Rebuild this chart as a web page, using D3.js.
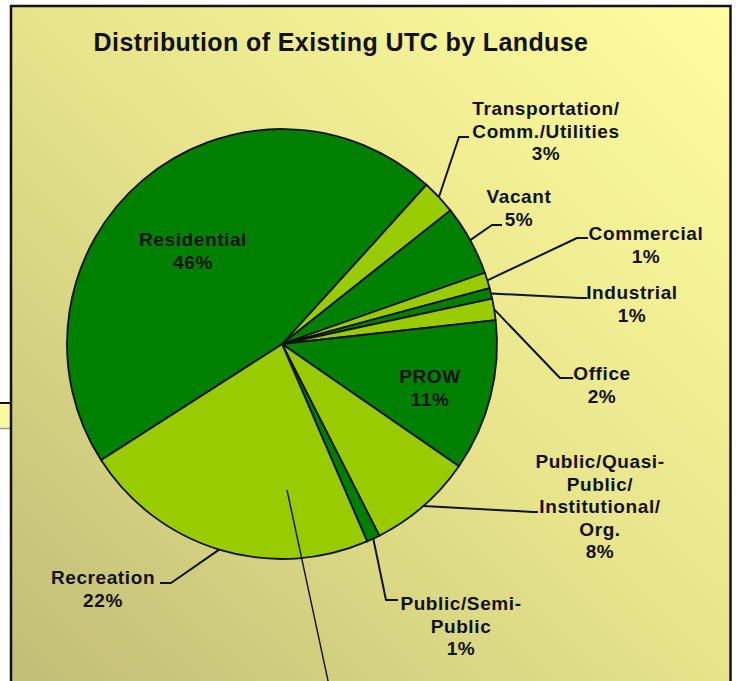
<!DOCTYPE html>
<html>
<head>
<meta charset="utf-8">
<script src="https://cdn.jsdelivr.net/npm/d3@7"></script>
<style>
  html, body { margin: 0; padding: 0; background: #ffffff; }
  svg { display: block; }
  text { font-family: "Liberation Sans", Arial, sans-serif; font-weight: bold; fill: #111; }
</style>
</head>
<body>
<svg id="chart" width="738" height="681"></svg>
<script>
// ---- data ----
const title = "Distribution of Existing UTC by Landuse";
const categories = ["Transportation/Comm./Utilities", "Vacant", "Commercial", "Industrial", "Office",
  "PROW", "Public/Quasi-Public/Institutional/Org.", "Public/Semi-Public", "Recreation", "Residential"];
const values = [2.6, 5.3, 1.2, 0.8, 1.6, 11.4, 7.9, 1.0, 22.4, 45.8];
const percentLabels = ["3%", "5%", "1%", "1%", "2%", "11%", "8%", "1%", "22%", "46%"];
const labelLines = [
  ["Transportation/", "Comm./Utilities"],
  ["Vacant"],
  ["Commercial"],
  ["Industrial"],
  ["Office"],
  ["PROW"],
  ["Public/Quasi-", "Public/", "Institutional/", "Org."],
  ["Public/Semi-", "Public"],
  ["Recreation"],
  ["Residential"]
];

// ---- styles / layout ----
const DARK = "#008000", LIGHT = "#99cc00";
const sliceColors = [LIGHT, DARK, LIGHT, DARK, LIGHT, DARK, LIGHT, DARK, LIGHT, DARK];
const cx = 282, cy = 344, R = 215;
const startDeg = 42.2;
const lineH = 22.5;
// label anchor (center x, first baseline) and leader elbow/end relative to the chart
const labelLayout = [
  {x: 546, y: 115, elbow: [459, 137], end: [469, 137]},
  {x: 519, y: 203, elbow: [492, 225], end: [502, 225]},
  {x: 646, y: 240, elbow: [577, 238], end: [588, 238]},
  {x: 632, y: 299, elbow: [580, 298], end: [587, 298]},
  {x: 602, y: 380, elbow: [560, 378], end: [573, 378]},
  {x: 430, y: 383, inside: true},
  {x: 600, y: 468, elbow: [533, 512], end: [538, 512]},
  {x: 461, y: 610, elbow: [386, 600], end: [398, 600]},
  {x: 103, y: 584, elbow: [171, 583], end: [160, 583]},
  {x: 193, y: 246, inside: true}
];

const svg = d3.select("#chart");
const W = 738, H = 681;

// background gradient
const defs = svg.append("defs");
const grad = defs.append("linearGradient").attr("id", "bg")
  .attr("x1", "100%").attr("y1", "0%").attr("x2", "0%").attr("y2", "100%");
grad.append("stop").attr("offset", "0%").attr("stop-color", "#fffd9f");
grad.append("stop").attr("offset", "50%").attr("stop-color", "#e6e38b");
grad.append("stop").attr("offset", "100%").attr("stop-color", "#c0bd77");

svg.append("rect").attr("x", 0).attr("y", 0).attr("width", W).attr("height", H).attr("fill", "#ffffff");

// small piece outside the frame on the left
svg.append("rect").attr("x", 0).attr("y", 404).attr("width", 12).attr("height", 24).attr("fill", "#fdf8a0");
svg.append("line").attr("x1", 0).attr("x2", 12).attr("y1", 403).attr("y2", 403).attr("stroke", "#111").attr("stroke-width", 2);
svg.append("line").attr("x1", 0).attr("x2", 12).attr("y1", 428.5).attr("y2", 428.5).attr("stroke", "#999").attr("stroke-width", 1.5);

// frame
svg.append("rect").attr("x", 12).attr("y", 7).attr("width", 717).attr("height", H).attr("fill", "url(#bg)");
svg.append("path").attr("d", `M11,${H} L11,6 L730.5,6 L730.5,${H}`)
  .attr("fill", "none").attr("stroke", "#111").attr("stroke-width", 2.5);

// title
svg.append("text").attr("x", 341).attr("y", 51).attr("text-anchor", "middle")
  .style("font-size", "25px").style("letter-spacing", "0.4px").text(title);

// pie
const pie = d3.pie().value(d => d).sort(null)
  .startAngle(startDeg * Math.PI / 180)
  .endAngle(startDeg * Math.PI / 180 + 2 * Math.PI);
const arcs = pie(values);
const arc = d3.arc().innerRadius(0).outerRadius(R);
const edgeArc = d3.arc().innerRadius(R).outerRadius(R);

const g = svg.append("g").attr("transform", `translate(${cx},${cy})`);
g.selectAll("path.slice").data(arcs).enter().append("path")
  .attr("class", "slice")
  .attr("d", arc)
  .attr("fill", (d, i) => sliceColors[i])
  .attr("stroke", "#111").attr("stroke-width", 1.8).attr("stroke-linejoin", "round");

// leader lines
arcs.forEach((d, i) => {
  const L = labelLayout[i];
  if (L.inside) return;
  const s = edgeArc.centroid(d);
  const p0 = [cx + s[0], cy + s[1]];
  svg.append("polyline")
    .attr("points", [p0, L.elbow, L.end].map(p => p.join(",")).join(" "))
    .attr("fill", "none").attr("stroke", "#111").attr("stroke-width", 2)
    .attr("stroke-linejoin", "round");
});

// labels
arcs.forEach((d, i) => {
  const L = labelLayout[i];
  const lines = labelLines[i].concat([percentLabels[i]]);
  const t = svg.append("text").attr("text-anchor", "middle")
    .style("font-size", "19px").style("letter-spacing", "0.6px");
  lines.forEach((ln, k) => {
    t.append("tspan").attr("x", L.x).attr("y", L.y + k * lineH).text(ln);
  });
});

// stray pointer line
svg.append("line").attr("x1", 287).attr("y1", 490).attr("x2", 330).attr("y2", 690)
  .attr("stroke", "#111").attr("stroke-width", 1.4);
</script>
</body>
</html>
